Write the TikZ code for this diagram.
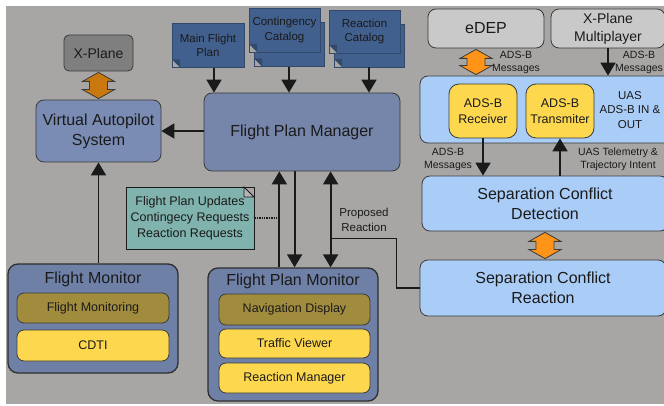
\documentclass[tikz,border=0pt]{standalone}
\usepackage{fontspec}
\setmainfont{Liberation Sans}
\usetikzlibrary{arrows.meta,calc}
\definecolor{bgcol}{HTML}{A7A6A4}
\definecolor{txtcol}{HTML}{1A1A1A}
\definecolor{edgecol}{HTML}{3A3A3A}
\definecolor{docblue}{HTML}{42608E}
\definecolor{docfold}{HTML}{33496B}
\definecolor{mgrblue}{HTML}{7686AA}
\definecolor{vasblue}{HTML}{7A8CB3}
\definecolor{monblue}{HTML}{6F80A7}
\definecolor{olivebox}{HTML}{A18C3E}
\definecolor{yellowbox}{HTML}{FDD84F}
\definecolor{skyblue}{HTML}{AACDF8}
\definecolor{notecol}{HTML}{80B3AE}
\definecolor{notefold}{HTML}{B4B4B4}
\definecolor{paleg}{HTML}{C9C9C9}
\definecolor{xpgray}{HTML}{7F7F7F}
\definecolor{darkorange}{HTML}{C8780F}
\definecolor{brightorange}{HTML}{FF9418}

% fat two-headed link between two points (top, bottom)
\newcommand{\fatlink}[3]{%
  \coordinate (ft) at ($(#2)+(0,1)$);
  \coordinate (fb) at ($(ft |- #3)+(0,-1)$);
  \draw[edgecol, line width=0.8pt, line join=miter, fill=#1] (ft) -- ($(ft)+(16,9)$) -- ($(ft)+(9,9)$)
    -- ($(fb)+(9,-9)$) -- ($(fb)+(16,-9)$) -- (fb) -- ($(fb)+(-16,-9)$) -- ($(fb)+(-9,-9)$)
    -- ($(ft)+(-9,9)$) -- ($(ft)+(-16,9)$) -- cycle;
}

\begin{document}
\begin{tikzpicture}[x=1pt, y=-1pt, >={Triangle[length=13pt,width=15pt]},
    box/.style={draw=edgecol, line width=0.8pt, rounded corners=8pt, align=center, text=txtcol, inner sep=2pt},
    panel/.style={draw=edgecol!80!black, line width=1.3pt, rounded corners=10pt, fill=monblue},
    sub/.style={box, rounded corners=7pt, minimum width=152pt, f12},
    doc/.style={draw=docfold, line width=0.6pt, fill=docblue, text=txtcol, align=center, inner sep=1pt,
      minimum width=72pt, minimum height=44pt, f11,
      path picture={
        \fill[bgcol] (path picture bounding box.south west) -- +(8,0) -- +(0,-8) -- cycle;
        \fill[docfold] ($(path picture bounding box.south west)+(8,0)$) -- +(-8,-8) -- +(0,-8) -- cycle;}},
    note/.style={draw=txtcol, line width=0.8pt, fill=notecol, text=txtcol, align=center,
      minimum width=128pt, minimum height=62pt, f12,
      path picture={
        \fill[bgcol] (path picture bounding box.north east) -- +(-10,0) -- +(0,10) -- cycle;
        \draw[txtcol, line width=0.8pt, fill=notefold] ($(path picture bounding box.north east)+(-10,0)$) -- +(10,10) -- +(0,10) -- cycle;}},
    conn/.style={line width=1.8pt, txtcol},
    lbl/.style={align=center, text=txtcol, inner sep=0pt},
    f16/.style={font=\fontsize{16}{20}\selectfont},
    f14/.style={font=\fontsize{14}{18}\selectfont},
    f12/.style={font=\fontsize{12.5}{16}\selectfont},
    f11/.style={font=\fontsize{11.5}{14.5}\selectfont},
    f10/.style={font=\fontsize{10.5}{13}\selectfont}]
  \path[use as bounding box] (0,0) rectangle (664,406);
  \fill[bgcol] (6,6) rectangle (664,404);
  \clip (0,0) rectangle (664,406);

  % left column
  \node[box, fill=xpgray, rounded corners=5pt, minimum width=69pt, minimum height=36pt, f14] (xplane) at (98.5,53) {X-Plane};
  \node[box, fill=vasblue, minimum width=125pt, minimum height=62pt, f16] (vas) at (98.5,131) {Virtual Autopilot\\System};
  \node[box, fill=mgrblue, minimum width=196pt, minimum height=78pt, f16] (fpm) at (302,132) {Flight Plan Manager};

  % plan documents
  \node[doc] (mfp) at (208,45.5) {Main Flight\\Plan};
  \node[doc, minimum width=70pt] (ccatb) at (289,44.5) {};
  \node[doc, minimum width=71pt] (ccat) at (284.5,30) {Contingency\\Catalog};
  \node[doc, minimum width=70pt, minimum height=43pt] (rcatb) at (369,45.5) {};
  \node[doc, minimum width=71pt, minimum height=43pt] (rcat) at (364.5,31.5) {Reaction\\Catalog};

  \node[note] (upd) at (190,218) {Flight Plan Updates\\Contingecy Requests\\Reaction Requests};

  % monitors
  \node[panel, minimum width=170pt, minimum height=109pt] (fmon) at (93,318.5) {};
  \node[lbl, f16] (fmontitle) at (93,279) {Flight Monitor};
  \node[sub, fill=olivebox, minimum height=30pt] (fmng) at (93,308) {Flight Monitoring};
  \node[sub, fill=yellowbox, minimum height=31pt] (cdti) at (93,345.5) {CDTI};

  \node[panel, minimum width=170pt, minimum height=133pt] (fpmon) at (293,334.5) {};
  \node[lbl, f16] (fpmontitle) at (293,281) {Flight Plan Monitor};
  \node[sub, fill=olivebox, minimum width=151pt, minimum height=31pt] (nav) at (294.5,309.5) {Navigation Display};
  \node[sub, fill=yellowbox, minimum width=151pt, minimum height=29pt] (traf) at (294.5,343.5) {Traffic Viewer};
  \node[sub, fill=yellowbox, minimum width=151pt, minimum height=30pt] (rman) at (294.5,378) {Reaction Manager};

  % right column
  \node[box, fill=paleg, minimum width=116pt, minimum height=39pt, f16] (edep) at (486,28.5) {eDEP};
  \node[box, fill=paleg, minimum width=114pt, minimum height=39pt, f14] (xpm) at (608,28.5) {X-Plane\\Multiplayer};
  \node[box, fill=skyblue, minimum width=260pt, minimum height=67pt] (uas) at (550,109.5) {};
  \node[lbl, f11] (uaslab) at (630,110) {UAS\\ADS-B IN \&\\OUT};
  \node[box, fill=yellowbox, rounded corners=10pt, minimum width=68pt, minimum height=54pt, f12] (rcv) at (483,111) {ADS-B\\Receiver};
  \node[box, fill=yellowbox, rounded corners=10pt, minimum width=68pt, minimum height=54pt, f12] (xmt) at (560,111) {ADS-B\\Transmiter};
  \node[box, fill=skyblue, minimum width=246pt, minimum height=55pt, f16] (scd) at (545,203.5) {Separation Conflict\\Detection};
  \node[box, fill=skyblue, minimum width=246pt, minimum height=56pt, f16] (scr) at (543,288) {Separation Conflict\\Reaction};

  % connectors
  \coordinate (mfpout) at ($(mfp.south)+(6,0)$);
  \draw[->, conn] (mfpout) -- (mfpout |- fpm.north);
  \draw[->, conn] (ccatb.south) -- (ccatb.south |- fpm.north);
  \draw[->, conn] (rcatb.south) -- (rcatb.south |- fpm.north);
  \draw[->, conn] (fpm.west |- vas.east) -- (vas.east);
  \fatlink{darkorange}{xplane.south}{vas.north}
  \draw[->, conn] (vas.south |- fmon.north) -- (vas.south);

  \coordinate (uptail) at ($(fpmon.north west)+(72,0)$);
  \draw[->, conn] (uptail) -- (uptail |- fpm.south);
  \draw[conn, line width=1.4pt, densely dotted] (upd.east) -- (upd.east -| uptail);
  \coordinate (dntail) at ($(fpm.south west)+(91,0)$);
  \draw[->, conn] (dntail) -- (dntail |- fpmon.north);
  \coordinate (prtail) at ($(fpm.south west)+(127,0)$);
  \draw[<->, conn] (prtail) -- (prtail |- fpmon.north);
  \coordinate (prjoin) at ($(prtail)+(0,67)$);
  \draw[conn, line width=1.6pt] (prjoin) -- ++(66,0) |- (scr.west);
  \node[lbl, f11] (prlab) at (364,220) {Proposed\\Reaction};

  \coordinate (edepout) at ($(edep.south)+(-10,0)$);
  \fatlink{brightorange}{edepout}{uas.north}
  \node[lbl, f10] (edeplab) at (516,62) {ADS-B\\Messages};
  \draw[->, conn] (xpm.south) -- (xpm.south |- uas.north);
  \node[lbl, f10] (xpmlab) at (639,62) {ADS-B\\Messages};
  \draw[->, conn] (rcv.south) -- (rcv.south |- scd.north);
  \node[lbl, f10] (rcvlab) at (448,159) {ADS-B\\Messages};
  \draw[->, conn] (xmt.south |- scd.north) -- (xmt.south);
  \node[lbl, f10] (xmtlab) at (618,159) {UAS Telemetry \&\\Trajectory Intent};
  \fatlink{brightorange}{scd.south}{scr.north}
\end{tikzpicture}
\end{document}
